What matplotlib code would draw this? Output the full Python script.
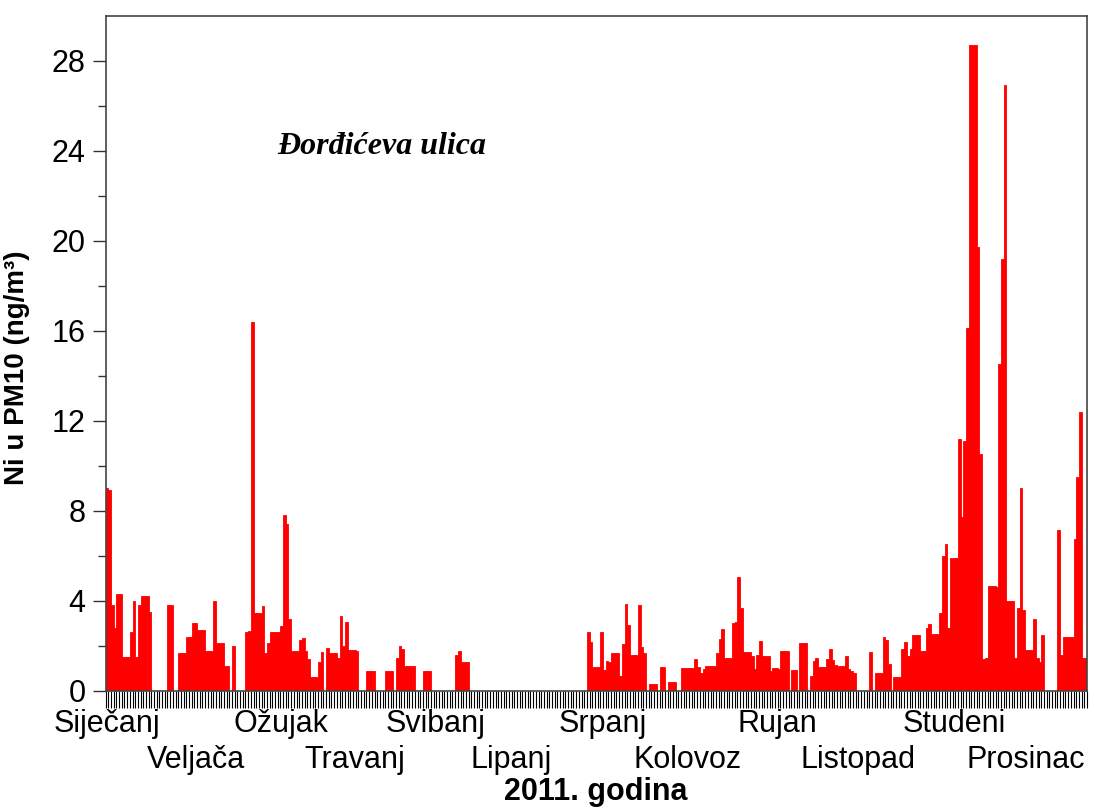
import numpy as np
import matplotlib
matplotlib.use("Agg")
import matplotlib.pyplot as plt
import matplotlib.transforms as mtransforms

nan = np.nan

# daily Ni values (ng/m3), 2011, one list per month; nan = no measurement
jan = [9.0, 8.9, 3.8, 2.8, 4.3, 4.3, 1.5, 1.5, 1.5, 2.6, 4.0, 1.5, 3.8, 4.2, 4.2, 4.2,
       3.5, 0, 0, 0, 0, 0, 0, 3.8, 3.8, 0, 0, 1.65, 1.65, 1.65, 2.4]
feb = [2.4, 3.0, 3.0, 2.7, 2.7, 2.7, 1.75, 1.75, 1.75, 4.0, 2.1, 2.1, 2.1, 1.1, 1.1, 0,
       2.0, 0, 0, 0, 0, 2.6, 2.65, 16.4, 3.45, 3.45, 3.45, 3.75]
mar = [1.65, 2.1, 2.6, 2.6, 2.6, 2.6, 2.85, 7.8, 7.4, 3.2, 1.75, 1.75, 1.75, 2.25, 2.35,
       1.75, 1.4, 0.6, 0.6, 0.6, 1.25, 1.7, 0, 1.9, 1.65, 1.65, 1.65, 1.45, 3.3, 2.0, 3.05]
apr = [1.8, 1.8, 1.8, 1.75, 0, 0, 0, 0.85, 0.85, 0.85, 0, 0, 0, 0, 0.85, 0.85, 0.85, 0,
       1.45, 2.0, 1.85, 1.1, 1.1, 1.1, 1.1, 0, 0, 0, 0.85, 0.85]
may = [0.85, 0, 0, 0, 0, 0, 0, 0, 0, 0, 1.6, 1.75, 1.25, 1.25, 1.25] + [nan] * 16
jun = [nan] * 28 + [2.6, 2.15]
jul = [1.05, 1.05, 1.05, 2.6, 0.9, 1.3, 1.25, 1.65, 1.65, 1.65, 0.65, 2.05, 3.85, 2.9,
       1.6, 1.6, 1.6, 3.8, 1.95, 1.65, 0, 0.27, 0.27, 0.27, 0, 1.05, 1.05, 0, 0.4, 0.4, 0.4]
aug = [0, 0, 1.0, 1.0, 1.0, 1.0, 1.0, 1.4, 1.05, 0.8, 0.95, 1.1, 1.1, 1.1, 1.1, 1.65,
       2.3, 2.75, 1.45, 1.45, 1.45, 3.0, 3.05, 5.05, 3.65, 1.7, 1.7, 1.7, 1.55, 0.95, 1.6]
sep = [2.2, 1.55, 1.55, 1.55, 0.85, 1.0, 1.0, 0.95, 1.75, 1.75, 1.75, 0, 0.9, 0.9, 0,
       2.1, 2.1, 2.1, 0, 0.65, 1.3, 1.45, 1.05, 1.05, 1.05, 1.4, 1.85, 1.35, 1.15, 1.1]
oct_ = [1.1, 1.1, 1.55, 0.95, 0.85, 0.8, 0, 0, 0, 0, 0, 1.7, 0, 0.78, 0.78, 0.78, 2.4,
        2.25, 1.2, 0, 0.62, 0.62, 0.62, 1.85, 2.15, 1.55, 1.85, 2.45, 2.45, 2.45, 1.75]
nov = [1.75, 2.8, 2.95, 2.5, 2.5, 2.5, 3.45, 6.0, 6.5, 2.8, 5.9, 5.9, 5.9, 11.2, 7.7,
       11.1, 16.1, 28.7, 28.7, 28.7, 19.7, 10.5, 1.4, 1.45, 4.65, 4.65, 4.65, 4.6, 14.5, 19.2]
dec = [26.9, 4.0, 4.0, 4.0, 1.45, 3.65, 9.0, 3.6, 1.8, 1.8, 1.8, 3.2, 1.45, 1.25, 2.45,
       nan, nan, nan, nan, nan, 7.15, 1.6, 2.4, 2.4, 2.4, 2.4, 6.75, 9.5, 12.4, 1.45, 1.45]

months = ["Siječanj", "Veljača", "Ožujak", "Travanj", "Svibanj", "Lipanj",
          "Srpanj", "Kolovoz", "Rujan", "Listopad", "Studeni", "Prosinac"]

values = np.array(jan + feb + mar + apr + may + jun + jul + aug + sep + oct_ + nov + dec)
days = np.arange(len(values))

# where the month names sit along the axis (in days)
label_pos = [0.5, 33.6, 65.2, 92.7, 122.8, 150.7, 184.9, 216.5, 250.0, 279.8, 315.8, 342.2]

plt.rcParams['font.family'] = ['Liberation Sans', 'DejaVu Sans']

fig = plt.figure(figsize=(11.04, 8.10), dpi=100)
ax = fig.add_axes([0.0957, 0.1475, 0.8889, 0.8331])

ax.bar(days, values, width=1.0, align='edge', color='red', edgecolor='red', linewidth=0.6)

ax.set_xlim(0, 365)
ax.set_ylim(0, 30)

# y axis
ax.set_yticks(np.arange(0, 29, 4))
ax.set_yticks(np.arange(2, 29, 4), minor=True)
ax.tick_params(axis='y', which='major', direction='out', length=9.5, width=1.0,
               labelsize=22, pad=5, colors='#333333', labelcolor='black')
ax.tick_params(axis='y', which='minor', direction='out', length=5.5, width=1.0, colors='#333333')

# x axis: one tick per day, month names written as text
ax.set_xticks(np.arange(0, 366))
ax.set_xticklabels([])
ax.tick_params(axis='x', which='major', direction='out', length=12, width=0.8, colors='black')

for sp in ax.spines.values():
    sp.set_color('#444444')
    sp.set_linewidth(1.2)

trans = mtransforms.blended_transform_factory(ax.transData, ax.transAxes)
for i, (name, pos) in enumerate(zip(months, label_pos)):
    yrow = -0.050 if i % 2 == 0 else -0.103
    ax.text(pos, yrow, name, transform=trans, ha='center', va='center', fontsize=22)

ax.set_ylabel("Ni u PM10 (ng/m³)", fontsize=20, fontweight='bold')
ax.yaxis.set_label_coords(-0.077, 0.479)

fig.text(0.54, 0.004, "2011. godina", ha='center', va='bottom', fontsize=22, fontweight='bold')

ax.text(102.8, 24.2, "Đorđićeva ulica", ha='center', va='center', fontsize=23,
        fontweight='bold', fontstyle='italic', family=['Liberation Serif', 'DejaVu Serif'])

fig.savefig("out.png", dpi=100)
